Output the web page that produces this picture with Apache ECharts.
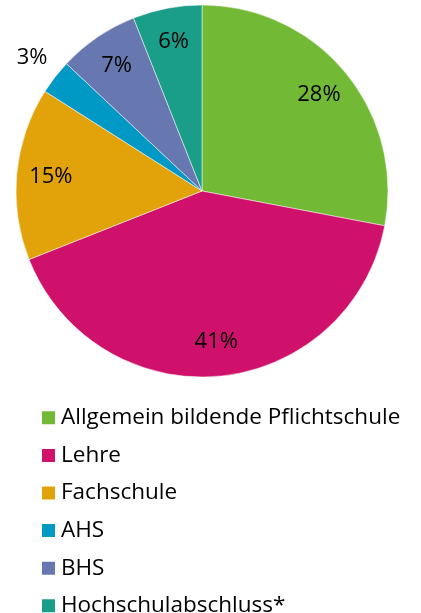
<!DOCTYPE html>
<html lang="de">
<head>
    <meta charset="UTF-8">
    <script src="https://cdn.jsdelivr.net/npm/echarts@6/dist/echarts.min.js"></script>
    <style>
        html, body { margin: 0; padding: 0; background: #fff; }
        #chart { width: 421px; height: 613px; }
    </style>
    <title>Bildungsabschluss</title>
</head>
<body>
    <div id="chart"></div>
    <script type="text/javascript">
        var categories = ['Allgemein bildende Pflichtschule', 'Lehre', 'Fachschule', 'AHS', 'BHS', 'Hochschulabschluss*'];
        var shares = [28, 41, 15, 3, 7, 6];
        var colors = ['#72B936', '#D0116B', '#E2A30A', '#0099C6', '#6778B0', '#1A9E8A'];

        var font = '"Open Sans", Lato, sans-serif';
        var cx = 202, cy = 191, R = 186;

        var pieData = [];
        var labelData = [];
        for (var i = 0; i < categories.length; i++) {
            pieData.push({ name: categories[i], value: shares[i], itemStyle: { color: colors[i] } });
            var item = { name: categories[i], value: shares[i] };
            // the small AHS slice gets its label outside, like the original
            if (categories[i] === 'AHS') {
                item.label = { offset: [-50, -40] };
            }
            labelData.push(item);
        }

        var ec = echarts.init(document.getElementById('chart'));
        ec.setOption({
            animation: false,
            color: colors,
            legend: {
                orient: 'vertical',
                left: 40,
                top: 406,
                height: 240,
                padding: 0,
                itemWidth: 15,
                itemHeight: 15,
                itemGap: 14,
                icon: 'rect',
                data: categories,
                textStyle: { fontFamily: font, fontSize: 22.5, color: '#000', lineHeight: 23.6 }
            },
            series: [
                {
                    name: 'Anteil',
                    type: 'pie',
                    center: [cx, cy],
                    radius: [0, R],
                    startAngle: 90,
                    clockwise: true,
                    label: { show: false },
                    labelLine: { show: false },
                    itemStyle: { borderColor: '#fff', borderWidth: 0.5 },
                    emphasis: { disabled: true },
                    data: pieData
                },
                {
                    // transparent ring only used to place the percentage labels
                    name: 'Labels',
                    type: 'pie',
                    silent: true,
                    center: [cx, cy],
                    radius: [R * 0.6, R],
                    startAngle: 90,
                    clockwise: true,
                    itemStyle: { color: 'rgba(0,0,0,0)' },
                    labelLine: { show: false },
                    label: {
                        show: true,
                        position: 'inside',
                        formatter: '{c}%',
                        fontFamily: font,
                        fontSize: 22,
                        color: '#000'
                    },
                    emphasis: { disabled: true },
                    data: labelData
                }
            ]
        });
    </script>
</body>
</html>
